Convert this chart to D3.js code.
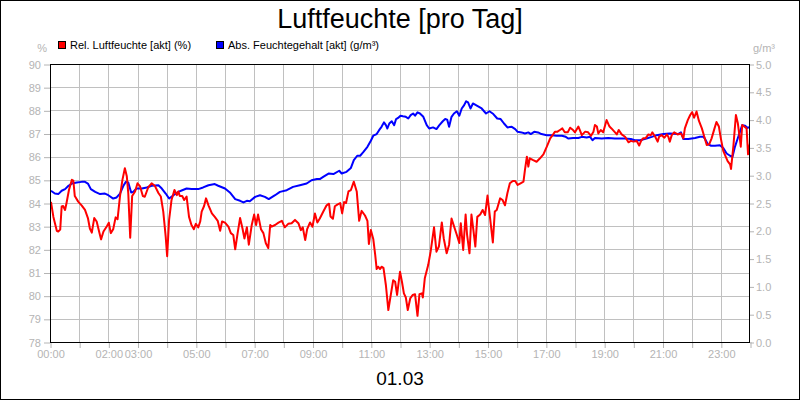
<!DOCTYPE html>
<html><head><meta charset="utf-8">
<script src="https://cdn.jsdelivr.net/npm/d3@7"></script>
<style>
html,body{margin:0;padding:0;background:#fff;}
svg text{font-family:"Liberation Sans",Arial,sans-serif;}
</style></head>
<body><svg id="c" width="800" height="400"></svg>
<script>
const title = "Luftfeuchte [pro Tag]";
const dateLabel = "01.03";
const seriesNames = ["Rel. Luftfeuchte [akt] (%)", "Abs. Feuchtegehalt [akt] (g/m³)"];
const leftTicks = [78,79,80,81,82,83,84,85,86,87,88,89,90];
const rightTicks = [0,0.5,1,1.5,2,2.5,3,3.5,4,4.5,5];
const hourTicks = d3.range(0,25);
const labelledHours = [0,2,3,5,7,9,11,13,15,17,19,21,23];

// minutes since midnight
const relTimes = [2,7,14,17,21,24,27,31,34,39,45,48,51,58,65,72,78,82,86,91,96,101,105,110,117,121,125,130,135,139,144,149,154,158,161,165,169,175,180,185,191,195,202,209,216,223,228,233,238,241,245,250,256,261,264,267,272,276,281,286,291,296,300,305,309,312,317,321,326,333,339,345,350,354,360,367,372,377,381,386,391,396,400,405,409,415,420,424,428,434,439,444,449,453,456,463,470,477,483,490,497,504,511,516,520,525,529,535,540,545,550,555,562,569,574,577,582,586,591,597,601,605,609,614,619,625,631,636,641,648,653,656,660,665,669,672,675,679,682,686,691,696,701,706,710,714,720,724,728,732,736,741,746,751,756,760,765,767,771,778,783,790,795,800,806,810,816,821,826,831,837,842,845,850,855,858,863,867,871,875,879,885,890,895,900,905,911,915,919,926,931,936,941,946,952,957,962,968,974,977,981,984,987,994,1001,1008,1015,1022,1029,1035,1039,1044,1049,1054,1059,1065,1070,1076,1080,1087,1090,1094,1101,1107,1113,1118,1121,1125,1128,1133,1138,1145,1151,1155,1161,1166,1170,1176,1183,1190,1195,1200,1207,1212,1216,1220,1225,1231,1236,1239,1245,1250,1253,1258,1264,1269,1272,1275,1279,1284,1291,1298,1303,1306,1312,1317,1321,1325,1330,1335,1341,1346,1351,1356,1361,1367,1371,1376,1380,1385,1390,1394,1399,1401,1406,1411,1415,1419,1421,1424,1428,1433,1436,1440];
const relValues = [84.05,83.4,82.8,82.77,82.85,83.85,83.87,83.7,84.0,84.56,85.0,84.97,84.3,84.06,83.9,83.7,83.35,82.9,82.72,83.35,83.2,82.77,82.43,82.77,83.0,83.15,82.7,82.87,83.38,83.3,84.3,85.0,85.5,85.15,84.43,82.5,84.3,84.5,84.85,84.73,84.3,84.27,84.67,84.85,84.73,84.43,84.28,83.63,82.55,81.7,83.27,84.13,84.56,84.34,84.5,84.3,84.3,84.13,84.28,83.4,83.05,82.87,83.1,82.95,83.2,83.63,83.87,84.2,83.9,83.55,83.4,83.23,82.8,83.2,83.15,82.98,82.7,82.62,82.0,82.7,83.35,82.9,82.47,82.95,82.2,83.05,83.5,83.05,83.5,82.87,82.7,82.26,82.05,83.05,82.98,83.05,83.15,83.23,82.95,83.1,83.13,83.27,83.13,82.83,82.95,82.4,82.87,83.16,82.98,83.55,83.16,83.33,83.62,83.9,83.97,83.42,83.32,83.86,83.93,84.0,83.55,84.04,84.0,84.5,84.56,84.92,84.5,83.23,83.66,83.46,83.23,82.23,82.83,82.45,81.76,81.15,81.25,81.15,81.25,81.2,80.45,79.38,80.03,80.67,80.6,80.03,81.03,80.6,80.1,79.92,79.38,79.88,80.03,80.06,79.13,80.06,80.1,79.92,80.75,81.32,81.9,82.95,81.9,82.12,83.16,82.47,81.83,82.2,83.33,83.0,82.62,82.27,83.13,81.97,83.5,82.62,81.83,83.5,82.83,82.12,83.4,83.5,83.7,83.48,84.32,83.4,82.3,83.63,83.7,84.2,84.13,83.9,84.43,84.85,84.95,84.95,84.78,84.85,84.92,85.42,86.0,85.57,85.93,85.85,85.78,85.93,86.1,86.43,86.79,86.96,87.08,87.08,87.15,87.22,87.05,87.05,87.25,87.15,87.05,87.3,87.15,86.93,87.08,87.05,86.9,87.08,87.37,87.3,87.0,87.15,87.05,87.58,87.3,87.22,87.08,86.96,87.15,86.96,86.86,86.62,86.68,86.65,86.68,86.48,86.68,86.79,86.79,86.96,86.93,87.05,86.86,86.65,86.86,86.93,86.82,86.96,86.86,86.65,86.93,87.05,86.96,87.0,86.79,87.22,87.58,87.8,87.92,87.68,87.95,87.54,87.22,86.86,86.5,86.53,86.79,87.22,87.5,87.3,86.79,86.25,86.0,85.81,85.67,85.47,86.5,87.8,87.44,86.79,86.43,87.37,87.3,87.22,86.1,86.58];

const absTimes = [2,10,17,24,31,38,45,55,65,72,78,84,93,103,113,120,130,137,144,151,156,161,167,171,178,189,199,209,223,230,238,245,254,264,272,281,291,305,315,326,339,346,360,370,381,391,398,405,411,422,432,442,450,463,473,487,500,514,528,538,549,555,562,573,583,595,600,610,619,625,632,638,644,653,660,665,672,677,682,687,691,694,698,703,708,712,716,721,726,732,737,742,747,751,756,761,768,775,780,788,795,801,808,813,817,821,826,831,837,842,847,852,856,860,865,870,878,888,897,904,912,920,927,934,941,950,957,962,970,977,984,989,996,1004,1011,1022,1032,1042,1053,1061,1066,1076,1087,1094,1104,1111,1116,1121,1135,1148,1162,1183,1195,1203,1214,1227,1238,1248,1262,1275,1292,1298,1303,1313,1327,1337,1344,1347,1353,1360,1368,1378,1385,1392,1399,1404,1409,1415,1419,1424,1430,1435,1440];
const absValues = [2.72,2.67,2.66,2.72,2.75,2.81,2.85,2.87,2.88,2.88,2.85,2.75,2.70,2.66,2.67,2.64,2.58,2.60,2.67,2.81,2.88,2.87,2.69,2.70,2.76,2.76,2.78,2.81,2.82,2.76,2.67,2.58,2.64,2.70,2.73,2.76,2.75,2.75,2.78,2.82,2.84,2.81,2.76,2.69,2.57,2.54,2.51,2.54,2.53,2.61,2.64,2.61,2.57,2.64,2.70,2.73,2.79,2.82,2.85,2.91,2.93,2.93,2.97,3.03,3.02,3.08,3.03,3.06,3.13,3.27,3.35,3.35,3.41,3.51,3.62,3.71,3.74,3.81,3.87,3.95,3.90,3.84,3.93,3.97,3.90,4.01,4.03,4.07,4.06,4.05,4.02,4.08,4.11,4.07,4.13,4.11,4.05,3.90,3.84,3.86,3.83,3.90,3.97,4.01,4.00,3.87,4.05,4.11,4.15,4.07,4.20,4.26,4.33,4.31,4.20,4.29,4.25,4.20,4.11,4.15,4.10,4.02,4.01,3.93,3.86,3.87,3.83,3.78,3.77,3.75,3.77,3.74,3.78,3.77,3.74,3.72,3.72,3.71,3.71,3.69,3.66,3.67,3.67,3.69,3.68,3.69,3.63,3.67,3.66,3.67,3.66,3.66,3.65,3.63,3.63,3.66,3.69,3.72,3.74,3.75,3.74,3.77,3.65,3.65,3.67,3.69,3.69,3.66,3.56,3.53,3.53,3.54,3.49,3.39,3.35,3.33,3.51,3.67,3.77,3.90,3.89,3.85,3.87];

const svg = d3.select("#c");
const W = 800, H = 400;
const L = 50, R = 750, T = 64, B = 342;
const grey = "#b4b4b4";

svg.append("rect").attr("x",0.5).attr("y",0.5).attr("width",W-1).attr("height",H-1)
  .attr("fill","#fff").attr("stroke","#000");

const x = d3.scaleLinear().domain([0,1440]).range([L,R]);
const yL = d3.scaleLinear().domain([78,90]).range([B,T]);
const yR = d3.scaleLinear().domain([0,5]).range([B,T]);

// grid
const g = svg.append("g");
g.selectAll(".vg").data(hourTicks.slice(1,-1)).enter().append("line")
  .attr("x1",d=>Math.round(x(d*60))+0.5).attr("x2",d=>Math.round(x(d*60))+0.5)
  .attr("y1",T).attr("y2",B).attr("stroke","#c0c0c0").attr("stroke-width",1);
g.selectAll(".hg").data(leftTicks.slice(1,-1)).enter().append("line")
  .attr("x1",L).attr("x2",R)
  .attr("y1",d=>Math.round(yL(d))+0.5).attr("y2",d=>Math.round(yL(d))+0.5)
  .attr("stroke","#c0c0c0").attr("stroke-width",1);

// axes
function styleAxis(sel){
  sel.select(".domain").remove();
  sel.selectAll(".tick line").attr("stroke",grey);
  sel.selectAll(".tick text").attr("fill",grey).attr("font-size","11px")
    .attr("font-family","'Liberation Sans',Arial,sans-serif");
}
svg.append("g").attr("transform",`translate(${L},0.5)`)
  .call(d3.axisLeft(yL).tickValues(leftTicks).tickSize(6).tickPadding(3).tickFormat(d3.format("d")))
  .call(styleAxis);
svg.append("g").attr("transform",`translate(${R},0.5)`)
  .call(d3.axisRight(yR).tickValues(rightTicks).tickSize(4).tickPadding(2).tickFormat(d3.format(".1f")))
  .call(styleAxis);
svg.append("g").attr("transform",`translate(0.5,${B})`)
  .call(d3.axisBottom(x).tickValues(hourTicks.map(h=>h*60)).tickSize(6).tickPadding(2)
    .tickFormat(d=>labelledHours.includes(d/60)?d3.format("02d")(d/60)+":00":""))
  .call(styleAxis);

// lines
const lineAbs = d3.line().x((d,i)=>x(absTimes[i])).y(d=>yR(d));
const lineRel = d3.line().x((d,i)=>x(relTimes[i])).y(d=>yL(d));
svg.append("clipPath").attr("id","pc").append("rect")
  .attr("x",L).attr("y",T).attr("width",R-L).attr("height",B-T);
svg.append("path").datum(absValues).attr("d",lineAbs).attr("fill","none")
  .attr("stroke","#0000ff").attr("stroke-width",2).attr("stroke-linejoin","round").attr("clip-path","url(#pc)");
svg.append("path").datum(relValues).attr("d",lineRel).attr("fill","none")
  .attr("stroke","#ff0000").attr("stroke-width",2).attr("stroke-linejoin","round").attr("clip-path","url(#pc)");

// frame
svg.append("rect").attr("x",L+0.5).attr("y",T+0.5).attr("width",R-L-1).attr("height",B-T)
  .attr("fill","none").attr("stroke","#000");

// title & date
svg.append("text").attr("x",400).attr("y",28).attr("text-anchor","middle")
  .attr("font-size","27px").attr("fill","#000").text(title);
svg.append("text").attr("x",400).attr("y",385).attr("text-anchor","middle")
  .attr("font-size","19px").attr("fill","#000").text(dateLabel);

// unit labels
svg.append("text").attr("x",47).attr("y",52).attr("text-anchor","end")
  .attr("font-size","11px").attr("fill",grey).text("%");
svg.append("text").attr("x",753).attr("y",52)
  .attr("font-size","11px").attr("fill",grey).text("g/m³");

// legend
const legColors = ["#ff0000","#0000ff"];
const legX = [58,216];
seriesNames.forEach((n,i)=>{
  svg.append("rect").attr("x",legX[i]+0.5).attr("y",41.5).attr("width",7).attr("height",7)
    .attr("fill",legColors[i]).attr("stroke","#000").attr("stroke-width",1);
  svg.append("text").attr("x",legX[i]+12).attr("y",49).attr("font-size","11px")
    .attr("fill","#000").text(n);
});
</script></body></html>
